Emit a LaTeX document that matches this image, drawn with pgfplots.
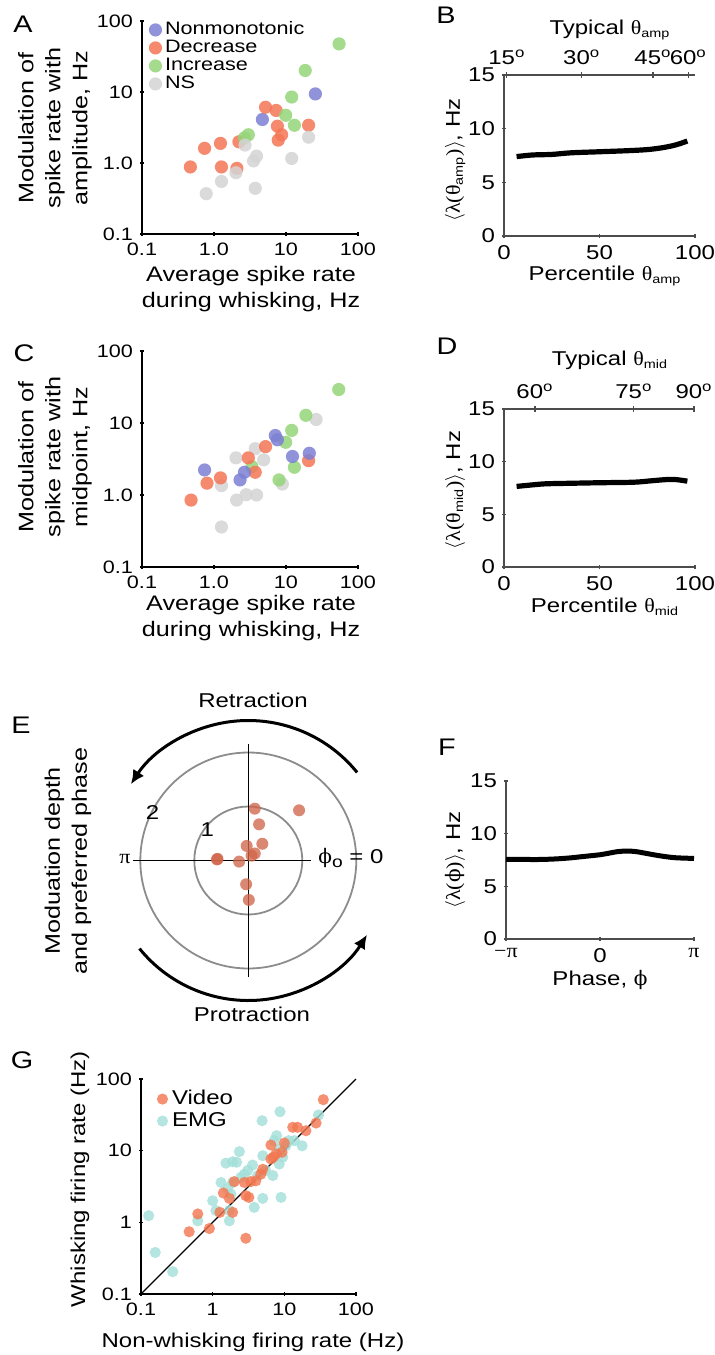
\documentclass[border=0pt]{standalone}
\usepackage{fontspec}
\setmainfont[FakeStretch=1.2]{Liberation Sans}
\newfontfamily\grk[FakeStretch=1.1]{Liberation Serif}
\newfontfamily\grkb{DejaVu Serif}
\usepackage{pgfplots}
\pgfplotsset{compat=1.18}
\usetikzlibrary{arrows.meta}

\definecolor{cBlue}{HTML}{7C80D2}
\definecolor{cOrange}{HTML}{F47556}
\definecolor{cGreen}{HTML}{95D579}
\definecolor{cGrey}{HTML}{D4D4D4}
\definecolor{cEMG}{HTML}{A2DFD8}
\definecolor{cVideo}{HTML}{F3764F}
\definecolor{cPolar}{HTML}{D0664B}

\newcommand{\fA}{\fontsize{10.5}{13.5}\selectfont}
\newcommand{\fG}{\fontsize{10}{12}\selectfont}
\newcommand{\fB}{\fontsize{10}{12}\selectfont}
\newcommand{\fT}{\fontsize{9}{10}\selectfont}
\newcommand{\fL}{\fontsize{12}{13}\selectfont}
\newcommand{\dg}{\textsuperscript{o}}
\newcommand{\sbs}[1]{\textsubscript{\fontsize{6}{6}\selectfont #1}}
\newcommand{\phis}{{\grkb ϕ}}

\pgfplotsset{
  every axis/.append style={scale only axis, anchor=south west, clip=false,
    tick align=inside, major tick length=2pt,
    /pgf/number format/assume math mode=true},
  legend image code/.code={\draw[#1] plot coordinates {(0pt,0pt)};},
}

\begin{document}
\begin{tikzpicture}
\useasboundingbox (0,0) rectangle (357pt,-677.5pt);

% ---------------- Panel A ----------------
\begin{axis}[at={(71pt,-117pt)}, width=108pt, height=106.5pt,
  axis lines=left, axis line style={-, line width=1.1pt},
  tick style={line width=0.8pt, black},
  xmode=log, ymode=log, xmin=0.1, xmax=100, ymin=0.1, ymax=100,
  xtick={0.1,1,10,100}, ytick={0.1,1,10,100},
  xminorticks=false, yminorticks=false, tick label style={font=\fT},
  xticklabels={0.1,1.0,10,100}, yticklabels={0.1,1.0,10,100},
  legend style={at={(axis description cs:0.03,1)}, anchor=north west,
    draw=none, fill=none, inner sep=0pt, row sep=0.5pt, column sep=1.5pt,
    font=\fT, nodes={inner sep=0pt, text height=6.5pt, text depth=2pt}},
  legend cell align=left]
\addplot[only marks, mark=*, mark size=3.3pt, mark options={draw opacity=0, fill=cBlue, fill opacity=0.85}]
  coordinates {(25.6,9.4) (4.7,4.1)};
\addlegendentry{Nonmonotonic}
\addplot[only marks, mark=*, mark size=3.3pt, mark options={draw opacity=0, fill=cOrange, fill opacity=0.85}]
  coordinates {(0.47,0.88) (0.74,1.61) (1.23,1.89) (1.27,0.88)
  (2.08,0.84) (2.22,1.99) (5.2,6.1) (7.3,5.5) (7.6,3.3) (8.7,2.5) (7.8,2.1) (20.6,3.4)};
\addlegendentry{Decrease}
\addplot[only marks, mark=*, mark size=3.3pt, mark options={draw opacity=0, fill=cGreen, fill opacity=0.85}]
  coordinates {(54.6,47.6) (18.5,20.1) (12.0,8.5) (9.9,4.7)
  (13.1,3.4) (3.0,2.5) (2.65,2.26)};
\addlegendentry{Increase}
\addplot[only marks, mark=*, mark size=3.3pt, mark options={draw opacity=0, fill=cGrey, fill opacity=0.85}]
  coordinates {(0.78,0.37) (1.27,0.55) (2.02,0.73) (2.7,1.79)
  (3.54,1.07) (3.9,1.25) (3.74,0.44) (12.0,1.16) (20.6,2.31)};
\addlegendentry{NS}
\end{axis}

% ---------------- Panel C ----------------
\begin{axis}[at={(71pt,-283.5pt)}, width=108pt, height=108pt,
  axis lines=left, axis line style={-, line width=1.1pt},
  tick style={line width=0.8pt, black},
  xmode=log, ymode=log, xmin=0.1, xmax=100, ymin=0.1, ymax=100,
  xtick={0.1,1,10,100}, ytick={0.1,1,10,100},
  xminorticks=false, yminorticks=false, tick label style={font=\fT},
  xticklabels={0.1,1.0,10,100}, yticklabels={0.1,1.0,10,100}]
\addplot[only marks, mark=*, mark size=3.3pt, mark options={draw opacity=0, fill=cGrey, fill opacity=0.85}]
  coordinates {(1.27,0.36) (1.27,1.35) (2.02,3.28) (2.06,0.85)
  (2.8,1.01) (3.9,1.0) (3.74,4.4) (4.9,3.08) (8.9,1.42) (26.2,11.2)};
\addplot[only marks, mark=*, mark size=3.3pt, mark options={draw opacity=0, fill=cGreen, fill opacity=0.85}]
  coordinates {(54,29.2) (18.9,12.8) (12.0,7.9) (9.9,5.4)
  (13.1,2.43) (8.0,1.62) (3.36,2.48)};
\addplot[only marks, mark=*, mark size=3.3pt, mark options={draw opacity=0, fill=cOrange, fill opacity=0.85}]
  coordinates {(0.48,0.85) (0.80,1.46) (1.23,1.73) (3.0,3.28)
  (3.74,2.07) (5.2,4.7) (20.6,3.0)};
\addplot[only marks, mark=*, mark size=3.3pt, mark options={draw opacity=0, fill=cBlue, fill opacity=0.85}]
  coordinates {(0.74,2.23) (7.1,6.7) (7.6,5.85) (12.3,3.43)
  (21.1,3.8) (2.65,2.07) (2.3,1.62)};
\end{axis}

% ---------------- Panel G ----------------
\begin{axis}[at={(70.5pt,-647pt)}, width=107.5pt, height=107.5pt,
  axis lines=left, axis line style={-, line width=1.1pt},
  tick style={line width=0.8pt, black},
  xmode=log, ymode=log, xmin=0.1, xmax=100, ymin=0.1, ymax=100,
  xtick={0.1,1,10,100}, ytick={0.1,1,10,100},
  xminorticks=false, yminorticks=false, tick label style={font=\fT},
  xticklabels={0.1,1,10,100}, yticklabels={0.1,1,10,100},
  reverse legend,
  legend style={at={(axis description cs:0.072,0.955)}, anchor=north west,
    draw=none, fill=none, inner sep=0pt, row sep=1pt, column sep=2pt,
    font=\fB, nodes={inner sep=0pt, text height=7.5pt, text depth=2.5pt}},
  legend cell align=left]
\addplot[black, line width=0.6pt, forget plot] coordinates {(0.1,0.1) (100,100)};
\addplot[only marks, mark=*, mark size=2.8pt, mark options={draw opacity=0, fill=cEMG, fill opacity=0.8}]
  coordinates {(30,31.5) (8.7,35) (4.9,26.2) (17.7,11.7) (13.8,13.8)
  (11.5,13.8) (7.8,16.2) (7.2,13.8) (10.5,11.7) (2.36,9.7) (1.9,7.0) (2.16,6.9)
  (1.53,6.7) (5,8.5) (8.5,10.5) (3.6,6.3) (3.08,5.3) (2.77,4.7) (2.48,4.25)
  (4.25,4.5) (5.5,5.3) (6.9,4.5) (8.5,6.5) (9.5,8.1) (1.9,3.6) (1.31,3.6)
  (1.62,2.98) (1.8,2.48) (1.0,2.0) (1.11,1.46) (1.71,1.46) (1.71,1.05) (3.8,1.62)
  (5,2.16) (9.0,2.23) (0.62,1.05) (0.128,1.24) (0.158,0.38) (0.277,0.205)};
\addlegendentry{EMG}
\addplot[only marks, mark=*, mark size=2.8pt, mark options={draw opacity=0, fill=cVideo, fill opacity=0.8}]
  coordinates {(35,51.5) (27.7,24.3) (20,19) (13.1,21.2) (15.3,21.2)
  (10,12.8) (9.3,9.5) (7.65,9.0) (6.5,12) (6.5,7.65) (7.0,8.1) (5,5.5) (4.7,4.7)
  (4.0,3.8) (3.4,3.7) (2.77,3.6) (2.9,2.36) (3.2,2.23) (2.0,3.7) (1.41,2.57)
  (1.71,2.16) (1.26,1.38) (1.9,1.38) (0.9,0.82) (0.62,1.31) (0.47,0.74) (2.9,0.6)};
\addlegendentry{Video}
\end{axis}

% ---------------- Panel B ----------------
\begin{axis}[at={(252pt,-118pt)}, width=95.5pt, height=80.5pt,
  axis lines=left, axis line style={-, line width=0.7pt, black!70},
  tick style={line width=0.6pt, black!70}, tick label style={font=\fB},
  ymin=0, ymax=15, ytick={0,5,10,15},
  xmin=0, xmax=100, xtick={0,50,100}]
\addplot[black, line width=2.6pt, smooth] coordinates {(6.6,7.4) (15,7.55) (25,7.6)
  (35,7.75) (50,7.85) (65,7.95) (75,8.05) (82,8.2) (88,8.4) (92,8.6) (96,8.85)};
\end{axis}
\begin{axis}[at={(252pt,-118pt)}, width=95.5pt, height=80.5pt,
  axis x line=top, axis y line=none, axis line style={-, line width=0.7pt, black!70},
  tick style={line width=0.6pt, black!70}, major tick length=3pt, tick label style={font=\fB},
  xmin=0, xmax=100, ymin=0, ymax=15,
  xtick={1.5,40.7,78,96.5}, xticklabels={15\dg,30\dg,45\dg,60\dg}]
\end{axis}

% ---------------- Panel D ----------------
\begin{axis}[at={(252pt,-283.5pt)}, width=95.5pt, height=79pt,
  axis lines=left, axis line style={-, line width=0.7pt, black!70},
  tick style={line width=0.6pt, black!70}, tick label style={font=\fB},
  ymin=0, ymax=15, ytick={0,5,10,15},
  xmin=0, xmax=100, xtick={0,50,100}]
\addplot[black, line width=2.6pt, smooth] coordinates {(6.6,7.65) (15,7.8) (22,7.9)
  (35,7.95) (50,8.0) (68,8.05) (78,8.2) (85,8.3) (90,8.3) (96,8.15)};
\end{axis}
\begin{axis}[at={(252pt,-283.5pt)}, width=95.5pt, height=79pt,
  axis x line=top, axis y line=none, axis line style={-, line width=0.7pt, black!70},
  tick style={line width=0.6pt, black!70}, major tick length=3pt, tick label style={font=\fB},
  xmin=0, xmax=100, ymin=0, ymax=15,
  xtick={16.2,68,99.5}, xticklabels={60\dg,75\dg,90\dg}]
\end{axis}

% ---------------- Panel F ----------------
\begin{axis}[at={(253pt,-469.5pt)}, width=94pt, height=79pt,
  axis lines=left, axis line style={-, line width=0.7pt, black!70},
  tick style={line width=0.6pt, black!70}, tick label style={font=\fB},
  ymin=0, ymax=15, ytick={0,5,10,15},
  xmin=-3.1416, xmax=3.1416, xtick={-3.1416,0,3.1416},
  xticklabels={{\grk −π},0,{\grk π}}]
\addplot[black, line width=2.5pt, smooth] coordinates {(-3.1416,7.55) (-2.5,7.55)
  (-2,7.55) (-1.5,7.6) (-1,7.7) (-0.5,7.85) (0,8.0) (0.3,8.15) (0.6,8.3) (0.9,8.35)
  (1.2,8.3) (1.5,8.15) (2.0,7.9) (2.5,7.72) (3.1416,7.65)};
\end{axis}

% ---------------- Panel E ----------------
\begin{axis}[anchor=center, at={(124.15pt,-430.25pt)},
  width=162pt, height=162pt, xmin=-3, xmax=3, ymin=-3, ymax=3, hide axis]
\draw[black!45, line width=0.9pt] (axis cs:0,0) circle[radius=27pt];
\draw[black!45, line width=0.9pt] (axis cs:0,0) circle[radius=54pt];
\draw[black, line width=0.8pt] (axis cs:0,-2.16) -- (axis cs:0,2.16);
\draw[black, line width=0.8pt] (axis cs:-2.13,0) -- (axis cs:1.17,0);
\draw[black, line width=1.5pt, -{Latex[length=7pt,width=6.5pt]}]
  ([shift={(39:70pt)}]axis cs:0,0) arc[start angle=39, end angle=147, radius=70pt];
\draw[black, line width=1.5pt, -{Latex[length=7pt,width=6.5pt]}]
  ([shift={(219:70pt)}]axis cs:0,0) arc[start angle=219, end angle=328, radius=70pt];
\addplot[only marks, mark=*, mark size=3pt,
  mark options={draw opacity=0, fill=cPolar, fill opacity=0.78}] coordinates {
  (0.12,0.96) (0.94,0.93) (0.20,0.67) (0.26,0.31) (-0.03,0.27) (0.12,0.13)
  (0.06,0.09) (-0.58,0.02) (-0.57,0.03) (-0.17,-0.02) (-0.04,-0.44) (0.01,-0.73)};
\end{axis}

% ---------------- Text ----------------
\node[font=\fL] at (11.5pt,-12pt) {A};
\node[font=\fL] at (223pt,-7.5pt) {B};
\node[font=\fL] at (12pt,-176.5pt) {C};
\node[font=\fL] at (223.5pt,-173pt) {D};
\node[font=\fL] at (10.5pt,-362.5pt) {E};
\node[font=\fL] at (223.5pt,-373.5pt) {F};
\node[font=\fL] at (11pt,-530pt) {G};

\node[font=\fA, rotate=90, align=center] at (27.5pt,-64pt)
  {Modulation of\\spike rate with\\amplitude, Hz};
\node[font=\fontsize{10.5}{13}\selectfont, align=center] at (125.5pt,-144.5pt)
  {Average spike rate\\during whisking, Hz};
\node[font=\fA, rotate=90, align=center] at (27.5pt,-228.5pt)
  {Modulation of\\spike rate with\\midpoint, Hz};
\node[font=\fontsize{10.5}{13}\selectfont, align=center] at (125.5pt,-309pt)
  {Average spike rate\\during whisking, Hz};
\node[font=\fG, rotate=90] at (40pt,-589.5pt) {Whisking firing rate (Hz)};
\node[font=\fG] at (126.5pt,-671pt) {Non-whisking firing rate (Hz)};

\node[font=\fB] at (305pt,-15pt) {Typical {\grk θ}\sbs{amp}};
\node[font=\fB] at (302.5pt,-138pt) {Percentile {\grk θ}\sbs{amp}};
\node[font=\fB, rotate=90] at (227.5pt,-80pt)
  {$\langle${\grk λ(θ}\sbs{amp}{\grk )}$\rangle$, Hz};
\node[font=\fB] at (305pt,-180pt) {Typical {\grk θ}\sbs{mid}};
\node[font=\fB] at (302.5pt,-303.5pt) {Percentile {\grk θ}\sbs{mid}};
\node[font=\fB, rotate=90] at (227.5pt,-245pt)
  {$\langle${\grk λ(θ}\sbs{mid}{\grk )}$\rangle$, Hz};
\node[font=\fB, rotate=90] at (227.5pt,-430pt)
  {$\langle${\grk λ(}\phis{\grk )}$\rangle$, Hz};
\node[font=\fB] at (300pt,-490pt) {Phase, \phis};

\node[font=\fA, rotate=90, align=center] at (34pt,-430.5pt)
  {Moduation depth\\and preferred phase};
\node[font=\fB] at (126.5pt,-350pt) {Retraction};
\node[font=\fB] at (126pt,-507pt) {Protraction};
\node[font=\fB] at (62.5pt,-429.5pt) {\grk π};
\node[font=\fB, anchor=west, inner sep=0pt] at (159pt,-429pt)
  {\phis\raisebox{-2pt}{\fontsize{8}{8}\selectfont o} = 0};
\node[font=\fB] at (103.7pt,-414.7pt) {1};
\node[font=\fB] at (76.3pt,-406.3pt) {2};
\end{tikzpicture}
\end{document}
